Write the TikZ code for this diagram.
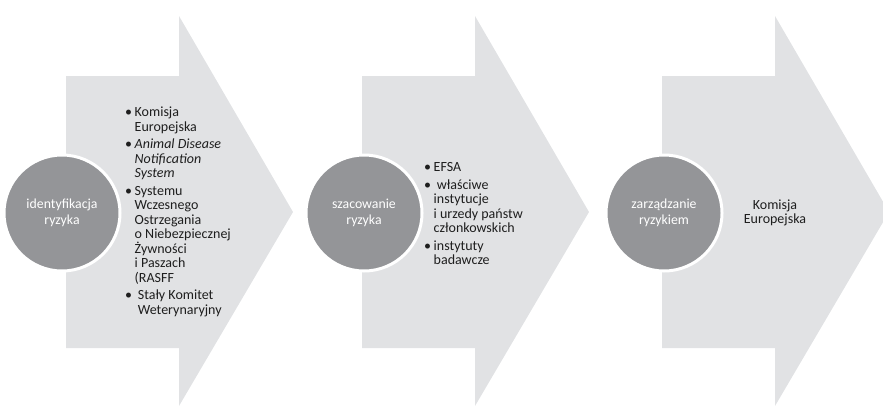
\documentclass[tikz,border=0pt]{standalone}
\usepackage{fontspec}
\setmainfont{Carlito}
\usepackage{tikz}
\usetikzlibrary{positioning,calc}

\definecolor{stagegray}{HTML}{E1E2E4}
\definecolor{hubgray}{HTML}{949598}
\definecolor{txtgray}{HTML}{1E1E1E}

\newcommand{\bul}{\makebox[9.5pt][l]{\textbullet}}
\newcommand{\ind}{\hspace*{9.5pt}}

\tikzset{
  stage/.style={fill=stagegray, draw=none},
  hub/.style={circle, fill=hubgray, draw=white, line width=3pt, minimum size=116pt,
    text=white, align=center, font=\fontsize{13.8}{15.5}\selectfont, inner sep=0pt},
  lst/.style={align=left, text=txtgray, font=\fontsize{14}{14.5}\selectfont, inner sep=0pt, anchor=west}
}

\begin{document}
\begin{tikzpicture}[x=1pt, y=-1pt]
	\useasboundingbox (0,0) rectangle (883,407);
	\clip (0,0) rectangle (883,407);
	% strzalki
	\foreach \l in {66,362,662}
		\fill[stage] (\l,76) -- ++(113,0) -- ++(0,-60) -- ++(114,196) -- ++(-114,194) -- ++(0,-58) -- (\l,348) -- cycle;
	% kola
	\node[hub] (ident) at (62,213) {identyfikacja\\ryzyka};
	\node[hub] (szac) at (364,213) {szacowanie\\ryzyka};
	\node[hub] (zarz) at (664,213) {zarządzanie\\ryzykiem};
	% teksty
	\node[lst] (ident-txt) at (125,212) {\bul Komisja\\ \ind Europejska\\[3pt]
		\bul\textit{Animal Disease}\\ \ind\textit{Notification}\\ \ind\textit{System}\\[3pt]
		\bul Systemu\\ \ind Wczesnego\\ \ind Ostrzegania\\ \ind o Niebezpiecznej\\ \ind Żywności\\ \ind i Paszach\\ \ind (RASFF\\[3pt]
		\bul\ Stały Komitet\\ \ind\ Weterynaryjny};
	\node[lst] (szac-txt) at (424,214) {\bul EFSA\\[3pt]
		\bul\ właściwe\\ \ind instytucje\\ \ind i urzedy państw\\ \ind członkowskich\\[3pt]
		\bul instytuty\\ \ind badawcze};
	\node[lst, anchor=center, align=center] (zarz-txt) at (775,213) {Komisja\\Europejska};
\end{tikzpicture}
\end{document}
